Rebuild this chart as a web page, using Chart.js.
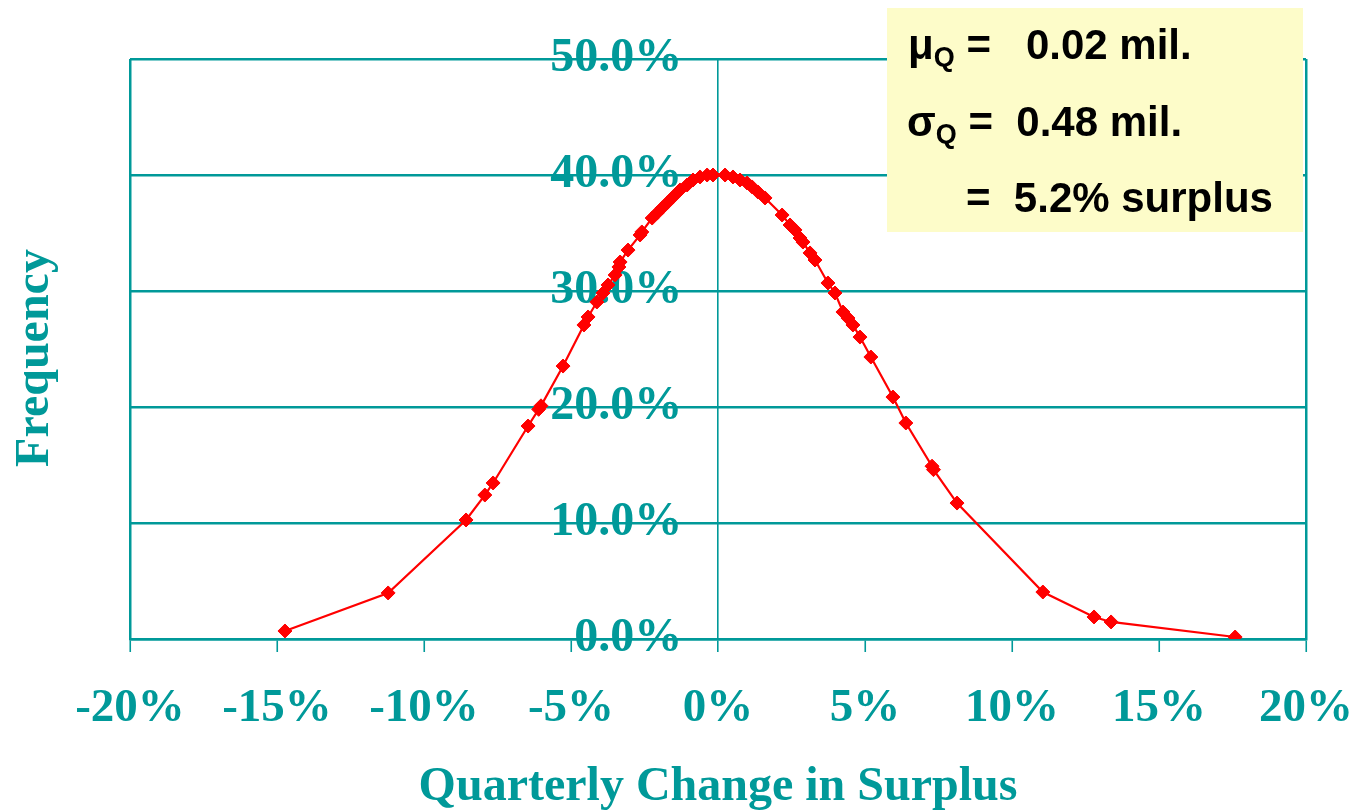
<!DOCTYPE html>
<html>
<head>
<meta charset="utf-8">
<script src="https://cdn.jsdelivr.net/npm/chart.js@4.4.1/dist/chart.umd.min.js"></script>
<style>
  html, body { margin: 0; padding: 0; background: #ffffff; }
  #wrap { position: relative; width: 1360px; height: 812px; overflow: hidden; }
  #chart { position: absolute; left: 0; top: 0; }
  #stats {
    position: absolute; left: 887px; top: 8px; width: 416px; height: 224px;
    background: #fdfcc9;
    font-family: "Liberation Sans", Arial, sans-serif; font-weight: bold;
    font-size: 42px; color: #000; white-space: pre;
  }
  #stats .ln { position: absolute; line-height: 42px; }
  #stats .sub { font-size: 27px; position: relative; top: 7px; }
</style>
</head>
<body>
<div id="wrap">
  <canvas id="chart" width="1360" height="812"></canvas>
  <div id="stats">
    <div class="ln" style="left:21px; top:16px;">μ<span class="sub">Q</span> =   0.02 mil.</div>
    <div class="ln" style="left:20px; top:93px;">σ<span class="sub">Q</span> =  0.48 mil.</div>
    <div class="ln" style="left:79px; top:169px;">=  5.2% surplus</div>
  </div>
</div>
<script>
// Quarterly change in surplus (%) and its frequency (%)
const changePct = [-14.73, -11.22, -8.57, -7.93, -7.65, -6.46, -6.10, -6.02, -5.27, -4.56,
  -4.42, -4.12, -3.91, -3.74, -3.50, -3.37, -3.33, -3.06, -2.65, -2.59,
  -2.24, -2.07, -1.90, -1.73, -1.53, -1.29, -1.05, -0.85, -0.61, -0.37,
  -0.17, 0.24, 0.51, 0.75, 0.99, 1.16, 1.36, 1.60, 2.18, 2.45,
  2.62, 2.79, 2.89, 3.13, 3.30, 3.74, 3.98, 4.25, 4.42, 4.59,
  4.83, 5.20, 5.95, 6.39, 7.28, 7.33, 8.13, 11.05, 12.79, 13.37, 17.59];
const frequency = [0.69, 3.97, 10.26, 12.41, 13.45, 18.36, 19.80, 20.10, 23.53, 27.07,
  27.76, 29.05, 29.83, 30.52, 31.38, 32.07, 32.50, 33.53, 34.83, 35.09,
  36.29, 36.72, 37.16, 37.59, 38.10, 38.71, 39.14, 39.57, 39.83, 40.00,
  40.00, 40.00, 39.83, 39.57, 39.31, 38.97, 38.53, 38.02, 36.55, 35.69,
  35.26, 34.57, 34.22, 33.28, 32.67, 30.69, 29.83, 28.19, 27.67, 27.07,
  26.03, 24.31, 20.86, 18.62, 14.90, 14.60, 11.72, 4.05, 1.90, 1.47, 0.17];

const xTicks = [-20, -15, -10, -5, 0, 5, 10, 15, 20];
const yTicks = [0, 10, 20, 30, 40, 50];

// frequency labels hang just left of the 0% line
const yLabelAnchor = -1.22;

const TEAL = '#009999';
const serif = { family: '"Liberation Serif", "Times New Roman", serif', weight: 'bold' };

const points = changePct.map((x, i) => ({ x: x, y: frequency[i] }));

// vertical lines only at the frame edges and at 0%
const isFrameX = v => v === -20 || v === 20;

// centre the rotated "Frequency" title a little lower than the plot's middle
const titleNudge = {
  id: 'titleNudge',
  afterLayout(chart) {
    const s = chart.scales.yTitle;
    s.top += 9;
    s.bottom += 9;
  }
};

new Chart(document.getElementById('chart'), {
  type: 'line',
  data: {
    datasets: [{
      data: points,
      xAxisID: 'x',
      yAxisID: 'y',
      borderColor: '#ff0000',
      backgroundColor: '#ff0000',
      borderWidth: 2.2,
      tension: 0,
      pointStyle: 'rectRot',
      pointRadius: 7,
      pointBorderWidth: 1,
      pointBackgroundColor: '#ff0000',
      pointBorderColor: '#ff0000'
    }]
  },
  plugins: [titleNudge],
  options: {
    responsive: false,
    animation: false,
    layout: { padding: { top: 59, right: 54, left: 0, bottom: 0 } },
    plugins: { legend: { display: false }, tooltip: { enabled: false } },
    scales: {
      x: {
        type: 'linear',
        position: 'bottom',
        min: -20, max: 20,
        afterBuildTicks: s => { s.ticks = xTicks.map(v => ({ value: v })); },
        afterFit: s => { s.height = 173; s.paddingLeft = 0; s.paddingRight = 0; },
        ticks: {
          color: TEAL,
          font: Object.assign({ size: 47 }, serif),
          padding: 29,
          maxRotation: 0,
          autoSkip: false,
          callback: v => v + '%'
        },
        grid: {
          color: c => (c.tick && (isFrameX(c.tick.value) || c.tick.value === 0)) ? TEAL : 'rgba(0,0,0,0)',
          lineWidth: c => (c.tick && c.tick.value === 0) ? 1.6 : 2.5,
          tickLength: 13,
          tickColor: TEAL,
          tickWidth: 1.6
        },
        border: { display: true, color: TEAL, width: 2.5 },
        title: {
          display: true,
          text: 'Quarterly Change in Surplus',
          color: TEAL,
          font: Object.assign({ size: 48, lineHeight: 1.0 }, serif),
          padding: { top: 0, bottom: 0 }
        }
      },
      y: {
        type: 'linear',
        position: { x: yLabelAnchor },
        min: 0, max: 50,
        afterBuildTicks: s => { s.ticks = yTicks.map(v => ({ value: v })); },
        ticks: {
          color: TEAL,
          font: Object.assign({ size: 48 }, serif),
          padding: 0,
          callback: v => v.toFixed(1) + '%'
        },
        grid: {
          color: TEAL,
          lineWidth: 2.5,
          drawTicks: false
        },
        border: { display: false },
        title: { display: false }
      },
      yTitle: {
        type: 'linear',
        axis: 'y',
        position: 'left',
        afterFit: s => { s.width = 130; },
        ticks: { display: false },
        grid: { display: false },
        border: { display: false },
        title: {
          display: true,
          text: 'Frequency',
          color: TEAL,
          font: Object.assign({ size: 48 }, serif),
          padding: { top: 7, bottom: 0 }
        }
      }
    }
  }
});
</script>
</body>
</html>
